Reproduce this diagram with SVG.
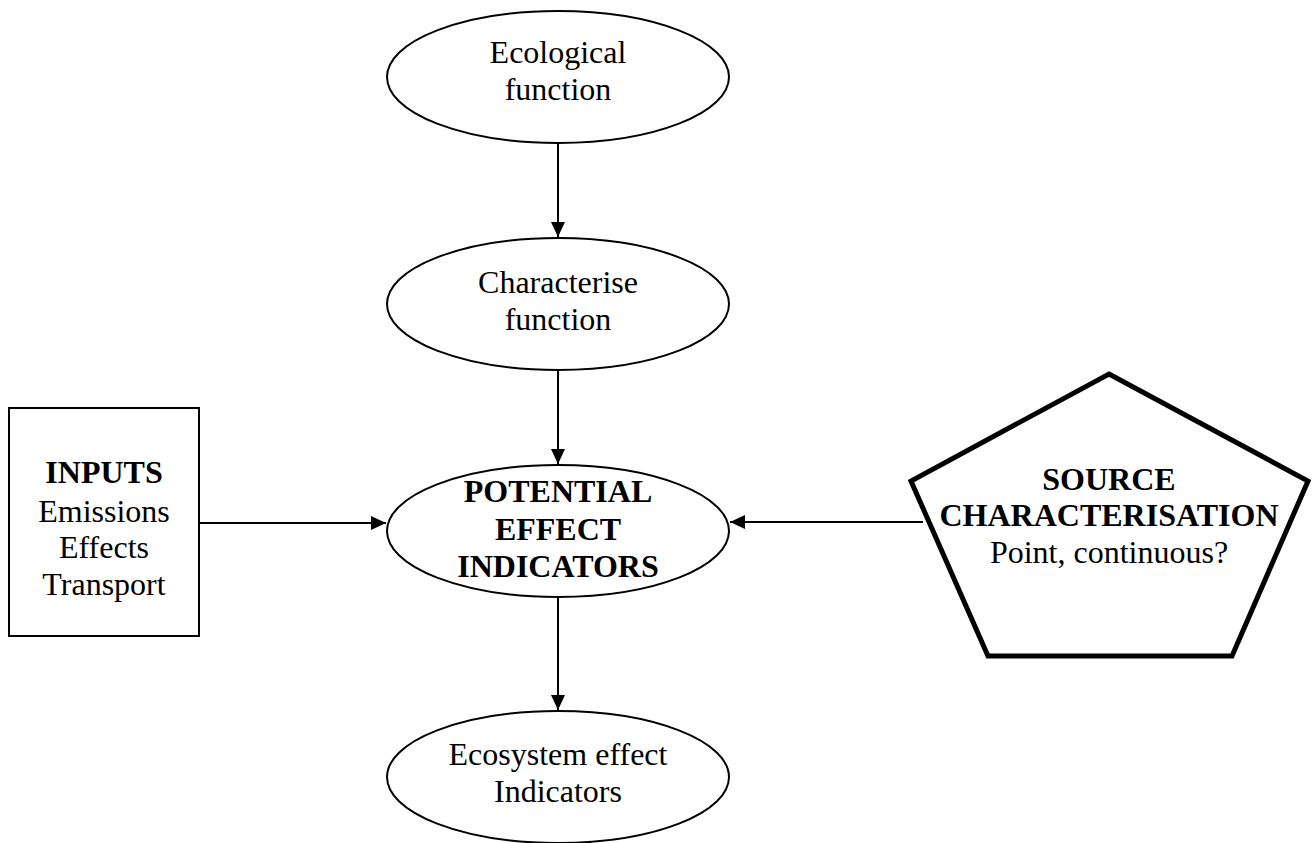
<svg xmlns="http://www.w3.org/2000/svg" width="1315" height="843" viewBox="0 0 1315 843">
<style>
.n{fill:#fff;stroke:#000;stroke-width:2}
.t{font-family:"Liberation Serif","Times New Roman",serif;font-size:32px;fill:#000;text-anchor:middle}
.b{font-weight:bold}
.c{stroke:#000;stroke-width:2;fill:none}
</style>
<defs>
<marker id="ah" markerWidth="16" markerHeight="14" refX="15" refY="7" orient="auto" markerUnits="userSpaceOnUse">
<path d="M0,0 L15,7 L0,14 Z" fill="#000"/>
</marker>
</defs>
<rect width="1315" height="843" fill="#fff"/>
<g id="connectors">
<line class="c" x1="558" y1="143" x2="558" y2="237" marker-end="url(#ah)"/>
<line class="c" x1="558" y1="370" x2="558" y2="464" marker-end="url(#ah)"/>
<line class="c" x1="558" y1="597" x2="558" y2="710" marker-end="url(#ah)"/>
<line class="c" x1="199" y1="523" x2="386" y2="523" marker-end="url(#ah)"/>
<line class="c" x1="923" y1="522" x2="730" y2="522" marker-end="url(#ah)"/>
</g>
<g id="ecological">
<ellipse class="n" cx="558" cy="77" rx="171" ry="66"/>
<text class="t" x="558" y="63">Ecological</text>
<text class="t" x="558" y="100">function</text>
</g>
<g id="characterise">
<ellipse class="n" cx="558" cy="304" rx="171" ry="66"/>
<text class="t" x="558" y="293">Characterise</text>
<text class="t" x="558" y="330">function</text>
</g>
<g id="potential">
<ellipse class="n" cx="558" cy="531" rx="171" ry="66"/>
<text class="t b" x="558" y="502">POTENTIAL</text>
<text class="t b" x="558" y="540">EFFECT</text>
<text class="t b" x="558" y="577">INDICATORS</text>
</g>
<g id="ecosystem">
<ellipse class="n" cx="558" cy="777" rx="171" ry="66"/>
<text class="t" x="558" y="765">Ecosystem effect</text>
<text class="t" x="558" y="802">Indicators</text>
</g>
<g id="inputs">
<rect class="n" x="9" y="408" width="190" height="228"/>
<text class="t b" x="104" y="483">INPUTS</text>
<text class="t" x="104" y="522">Emissions</text>
<text class="t" x="104" y="558">Effects</text>
<text class="t" x="104" y="595">Transport</text>
</g>
<g id="source">
<polygon points="1109,374 1308,481 1232,656 988,656 911,481" fill="#fff" stroke="#000" stroke-width="5"/>
<text class="t b" x="1109" y="490">SOURCE</text>
<text class="t b" x="1109" y="526">CHARACTERISATION</text>
<text class="t" x="1109" y="563">Point, continuous?</text>
</g>
</svg>
